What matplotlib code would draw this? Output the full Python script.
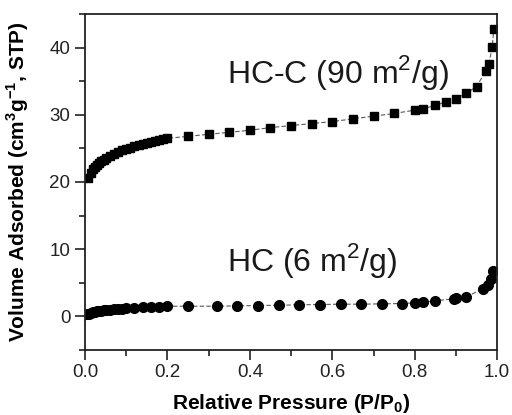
import matplotlib
matplotlib.use("Agg")
import matplotlib.pyplot as plt
from matplotlib.ticker import MultipleLocator

# === Data ===
hcc_p = [0.008, 0.015, 0.02, 0.025, 0.03, 0.035, 0.04, 0.045, 0.05, 0.06, 0.07, 0.08,
         0.09, 0.10, 0.11, 0.12, 0.13, 0.14, 0.15, 0.16, 0.17, 0.18, 0.19, 0.20,
         0.25, 0.30, 0.35, 0.40, 0.45, 0.50, 0.55, 0.60, 0.65, 0.70, 0.75, 0.80,
         0.82, 0.85, 0.875, 0.90, 0.925, 0.95, 0.973, 0.98, 0.988, 0.992]
hcc_v = [20.6, 21.4, 21.9, 22.2, 22.5, 22.8, 23.1, 23.3, 23.5, 23.9, 24.2, 24.5,
         24.7, 24.9, 25.1, 25.3, 25.5, 25.6, 25.8, 25.9, 26.1, 26.2, 26.4, 26.5,
         26.8, 27.1, 27.4, 27.7, 28.1, 28.4, 28.7, 29.0, 29.4, 29.8, 30.2, 30.7,
         30.9, 31.4, 31.9, 32.4, 33.2, 34.2, 36.6, 37.6, 40.1, 42.8]

hc_p = [0.005, 0.01, 0.015, 0.02, 0.025, 0.03, 0.035, 0.04, 0.045, 0.05, 0.06, 0.07,
        0.08, 0.09, 0.10, 0.12, 0.14, 0.16, 0.18, 0.20,
        0.25, 0.32, 0.37, 0.42, 0.47, 0.52, 0.57, 0.62, 0.67, 0.72, 0.77, 0.80,
        0.82, 0.85, 0.895, 0.90, 0.925, 0.966, 0.978, 0.985, 0.99]
hc_v = [0.3, 0.4, 0.5, 0.6, 0.7, 0.75, 0.8, 0.85, 0.9, 0.95, 1.0, 1.05,
        1.1, 1.15, 1.2, 1.3, 1.35, 1.4, 1.45, 1.5,
        1.5, 1.5, 1.55, 1.6, 1.65, 1.7, 1.75, 1.8, 1.8, 1.85, 1.9, 2.0,
        2.1, 2.3, 2.6, 2.7, 2.9, 4.1, 4.6, 5.5, 6.7]

labels = ["HC-C (90 m$^2$/g)", "HC (6 m$^2$/g)"]

plt.rcParams['font.family'] = ['Liberation Sans', 'DejaVu Sans']
plt.rcParams['mathtext.fontset'] = 'custom'
plt.rcParams['mathtext.rm'] = 'Liberation Sans'
plt.rcParams['mathtext.bf'] = 'Liberation Sans:bold'

fig = plt.figure(figsize=(5.12, 4.15), dpi=100)
ax = fig.add_axes([0.166, 0.157, 0.805, 0.809])

ax.plot(hcc_p, hcc_v, linestyle=(0, (4, 2)), color="0.35", linewidth=0.8,
        marker="s", markersize=6, markerfacecolor="black", markeredgecolor="black")
ax.plot(hc_p, hc_v, linestyle=(0, (4, 2)), color="0.35", linewidth=0.8,
        marker="o", markersize=7, markerfacecolor="black", markeredgecolor="black")

ax.text(0.345, 34.7, labels[0], fontsize=23, color="#1a1a1a")
ax.text(0.345, 6.7, labels[1], fontsize=23, color="#1a1a1a")

ax.set_xlim(0, 1.0)
ax.set_ylim(-5, 45)
ax.xaxis.set_major_locator(MultipleLocator(0.2))
ax.xaxis.set_minor_locator(MultipleLocator(0.1))
ax.yaxis.set_major_locator(MultipleLocator(10))
ax.yaxis.set_minor_locator(MultipleLocator(5))
ax.tick_params(which="both", direction="out", width=1.2, labelsize=13.5,
               colors="#222222")
ax.tick_params(which="major", length=7)
ax.tick_params(which="minor", length=4)
for s in ax.spines.values():
    s.set_linewidth(1.3)
    s.set_color("#222222")

ax.set_xlabel("Relative Pressure (P/P$_\\mathbf{0}$)", fontsize=15, fontweight="bold")
ax.set_ylabel("Volume Adsorbed (cm$^\\mathbf{3}$g$^\\mathbf{-1}$, STP)", fontsize=15,
              fontweight="bold")
ax.xaxis.set_label_coords(0.5, -0.125)
ax.yaxis.set_label_coords(-0.13, 0.5)

fig.savefig("out.png", dpi=100)
